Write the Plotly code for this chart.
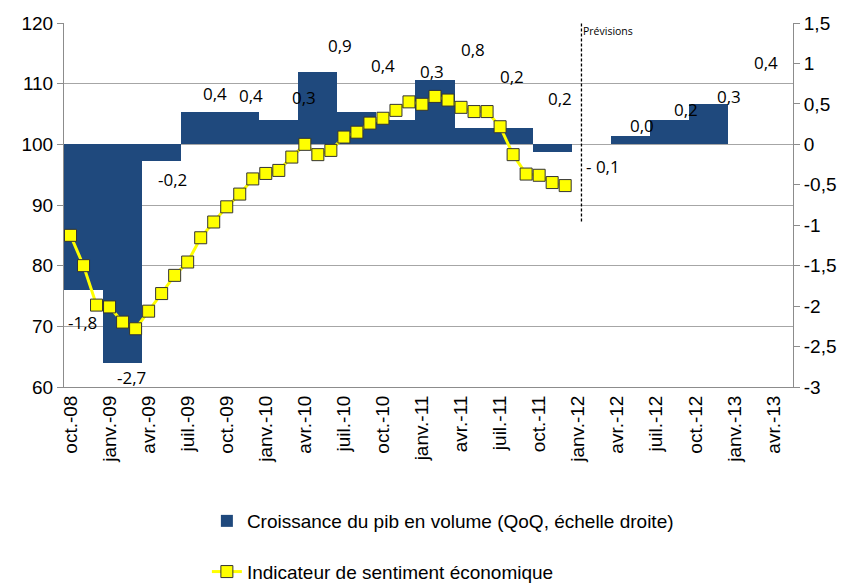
import plotly.graph_objects as go

# ---------------- data ----------------
month_labels = ["oct.-08", "janv.-09", "avr.-09", "juil.-09", "oct.-09", "janv.-10", "avr.-10",
                "juil.-10", "oct.-10", "janv.-11", "avr.-11", "juil.-11", "oct.-11", "janv.-12",
                "avr.-12", "juil.-12", "oct.-12", "janv.-13", "avr.-13"]
n_months = 56  # oct-08 .. mai-13, monthly category slots

# Quarterly GDP growth (QoQ, %), one value per quarter starting Q4-2008
gdp_growth = [-1.8, -2.7, -0.2, 0.4, 0.4, 0.3, 0.9, 0.4, 0.3, 0.8, 0.2, 0.2, -0.1,
              0.0, 0.1, 0.3, 0.5, 0.0]

# Economic sentiment indicator, monthly from oct-08 to dec-11
sentiment = [85.0, 80.0, 73.5, 73.2, 70.7, 69.6, 72.5, 75.4, 78.4, 80.6, 84.6, 87.2, 89.7,
             91.8, 94.3, 95.2, 95.7, 97.9, 100.0, 98.3, 99.0, 101.2, 102.0, 103.5, 104.3,
             105.6, 107.0, 106.6, 107.9, 107.3, 106.1, 105.4, 105.4, 102.9, 98.3, 95.1,
             94.9, 93.7, 93.2]

# Data labels as shown in the chart (text, month slot, right-axis level)
label_text = ["-1,8", "-2,7", "-0,2", "0,4", "0,4", "0,3", "0,9", "0,4", "0,3", "0,8",
              "0,2", "0,2", "- 0,1", "0,0", "0,2", "0,3", "0,4"]
label_month = [0.9, 4.7, 7.8, 11.1, 13.9, 17.9, 20.7, 24.0, 27.8, 30.9, 33.9, 37.6,
               40.9, 43.9, 47.3, 50.6, 53.4]
label_level = [-2.20, -2.88, -0.44, 0.63, 0.60, 0.58, 1.22, 0.97, 0.90, 1.17, 0.84, 0.57,
               -0.27, 0.23, 0.43, 0.59, 1.01]

forecast_start = 39.25  # month slot of the "Prévisions" separator
left_ticks = [60, 70, 80, 90, 100, 110, 120]
right_ticks = [-3, -2.5, -2, -1.5, -1, -0.5, 0, 0.5, 1, 1.5]
right_tick_text = ["-3", "-2,5", "-2", "-1,5", "-1", "-0,5", "0", "0,5", "1", "1,5"]

# ---------------- figure ----------------
NARROW = "Liberation Sans Narrow, Arial Narrow, Liberation Sans, Arial, sans-serif"
TXT = 19
GRID = "#a6a6a6"
AXIS = "#8c8c8c"

q_centers = [3 * i + 1 for i in range(len(gdp_growth))]
month_x = list(range(len(sentiment)))

fig = go.Figure()
fig.add_trace(go.Bar(
    x=q_centers, y=gdp_growth, width=3,
    marker=dict(color="#1f497d", line=dict(width=0)),
    name="Croissance du pib en volume (QoQ, échelle droite)",
    xaxis="x", yaxis="y", legendgroup="a",
))
fig.add_trace(go.Scatter(
    x=month_x, y=sentiment, mode="lines+markers",
    line=dict(color="#ffff00", width=3),
    marker=dict(symbol="square", size=12, color="#ffff00", line=dict(color="#333333", width=1)),
    name="Indicateur de sentiment économique",
    xaxis="x", yaxis="y2", legendgroup="b",
))

for t, m, v in zip(label_text, label_month, label_level):
    fig.add_annotation(x=m, y=v, xref="x", yref="y", text=t, showarrow=False,
                       font=dict(family="Open Sans, sans-serif", size=17, color="#000000"))

fig.add_shape(type="line", xref="x", yref="y2", x0=forecast_start, x1=forecast_start,
              y0=87.3, y1=120, line=dict(color="#000000", width=1.3, dash="3px,2px"), layer="above")
fig.add_annotation(x=forecast_start, y=118.6, xref="x", yref="y2", text="Prévisions",
                   showarrow=False, xanchor="left",
                   font=dict(family="Open Sans, sans-serif", size=10.5, color="#000000"))

fig.update_layout(
    width=847, height=584,
    margin=dict(l=64, r=54, t=23, b=197, autoexpand=False),
    paper_bgcolor="white", plot_bgcolor="white",
    separators=", ",
    bargap=0,
    showlegend=True,
    legend=dict(x=0.196, y=-0.316, xanchor="left", yanchor="top",
                font=dict(family=NARROW, size=TXT, color="#000000"),
                traceorder="grouped", tracegroupgap=23, bgcolor="rgba(0,0,0,0)"),
    xaxis=dict(range=[-0.5, n_months - 0.5], tickmode="array",
               tickvals=[3 * i for i in range(len(month_labels))], ticktext=month_labels,
               tickangle=-90, ticks="", showgrid=False, zeroline=False,
               showline=True, linecolor=AXIS, linewidth=1,
               tickfont=dict(family=NARROW, size=TXT, color="#000000")),
    xaxis2=dict(overlaying="x", anchor="y", side="bottom", range=[-0.5, n_months - 0.5],
                tickmode="array", tickvals=[3 * i - 0.5 for i in range(len(month_labels))],
                ticks="outside", ticklen=6, tickcolor=AXIS, showticklabels=False,
                showgrid=False, zeroline=False, showline=False),
    yaxis=dict(side="right", range=[-3, 1.5], tickmode="array", tickvals=right_ticks,
               ticktext=right_tick_text, ticks="outside", ticklen=6, tickcolor=AXIS,
               showgrid=False, zeroline=False, showline=True, linecolor=AXIS, linewidth=1,
               tickfont=dict(family=NARROW, size=TXT, color="#000000")),
    yaxis2=dict(overlaying="y", side="left", anchor="x", range=[60, 120], tickmode="array",
                tickvals=left_ticks, ticks="outside", ticklen=6, tickcolor=AXIS,
                showgrid=True, gridcolor=GRID, gridwidth=1, zeroline=False,
                showline=True, linecolor=AXIS, linewidth=1,
                tickfont=dict(family=NARROW, size=TXT, color="#000000")),
)

fig.write_html("out.html", config={"displayModeBar": False},
               post_script="document.body.style.margin='0';")
